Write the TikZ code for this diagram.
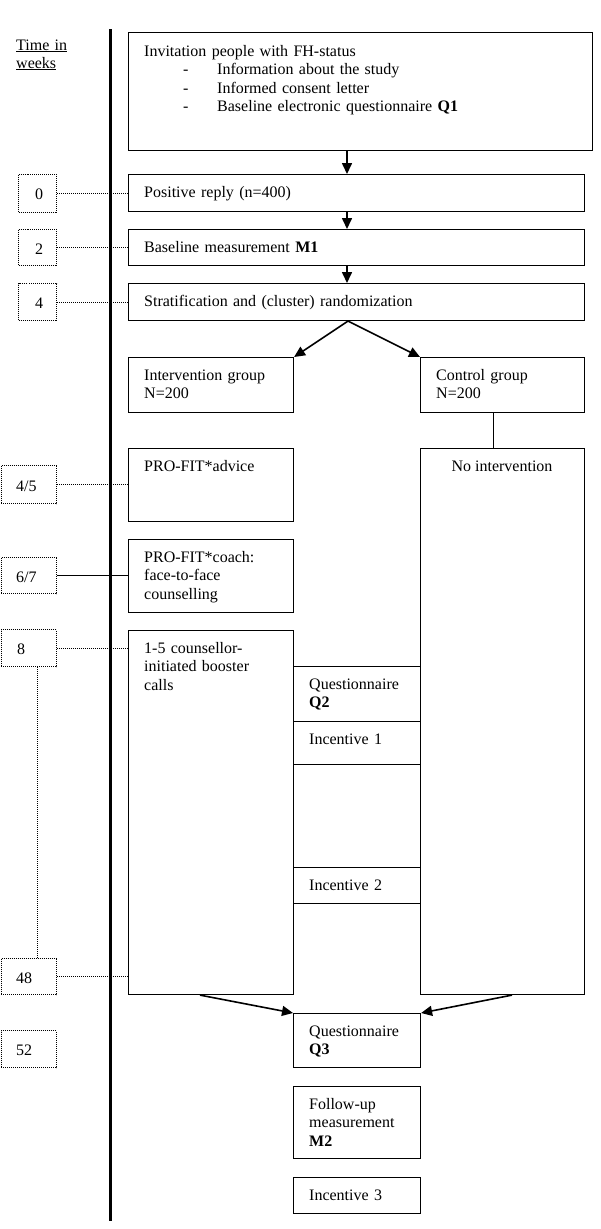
\documentclass[tikz,border=0pt]{standalone}
\usepackage{fontspec}
\setmainfont{Liberation Serif}
\usetikzlibrary{arrows.meta,calc}
\begin{document}
\begin{tikzpicture}[x=1pt,y=-1pt,
  box/.style={draw, line width=1.1pt, rectangle, inner sep=0pt, anchor=north west},
  tbox/.style={draw, dash pattern=on 1pt off 1pt, line width=1pt, rectangle, inner sep=0pt, anchor=north west},
  txt/.style={inner sep=0pt, anchor=base west, font=\fontsize{16}{18.7}\selectfont, text width=#1, align=left},
  txt/.default=150pt,
  dotl/.style={dash pattern=on 1pt off 1pt, line width=1pt},
  arr/.style={line width=1.6pt, -{Triangle[length=11pt,width=10pt]}},
  conn/.style={line width=1.1pt}]
\useasboundingbox (0,0) rectangle (600,1229);

% time label
\node[txt=80pt] (tl1) at (16,50) {\underline{Time in}};
\node[txt=80pt] (tl2) at (16,68) {\underline{weeks}};

% main boxes
\node[box, minimum width=464pt, minimum height=118pt] (inv) at (128,32) {};
\node[txt=440pt] (invT) at (144,56) {Invitation people with FH-status};
\node[txt=20pt] (d1) at (183,74.5) {-};
\node[txt=360pt] (b1) at (217,74.5) {Information about the study};
\node[txt=20pt] (d2) at (183,93) {-};
\node[txt=360pt] (b2) at (217,93) {Informed consent letter};
\node[txt=20pt] (d3) at (183,111.5) {-};
\node[txt=360pt] (b3) at (217,111.5) {Baseline electronic questionnaire \textbf{Q1}};

\node[box, minimum width=456pt, minimum height=37pt] (pos) at (128,174) {};
\node[txt=420pt] (posT) at (144,197) {Positive reply (n=400)};
\node[box, minimum width=456pt, minimum height=36pt] (base) at (128,229) {};
\node[txt=420pt] (baseT) at (144,252) {Baseline measurement \textbf{M1}};
\node[box, minimum width=456pt, minimum height=37pt] (strat) at (128,283) {};
\node[txt=420pt] (stratT) at (144,306) {Stratification and (cluster) randomization};

\node[box, minimum width=165pt, minimum height=55pt] (int) at (128,357) {};
\node[txt] (intT) at (144,380) {Intervention group\\N=200};
\node[box, minimum width=164pt, minimum height=55pt] (ctrl) at (420,357) {};
\node[txt] (ctrlT) at (436,380) {Control group\\N=200};

\node[box, minimum width=164pt, minimum height=546pt] (noint) at (420,448) {};
\node[inner sep=0pt, anchor=base, font=\fontsize{16}{18.7}\selectfont] (nointT) at (502,471) {No intervention};

\node[box, minimum width=165pt, minimum height=73pt] (adv) at (128,448) {};
\node[txt] (advT) at (144,471) {PRO-FIT*advice};
\node[box, minimum width=165pt, minimum height=73pt] (coach) at (128,539) {};
\node[txt] (coachT) at (144,562) {PRO-FIT*coach:\\face-to-face\\counselling};
\node[box, minimum width=165pt, minimum height=364pt] (boost) at (128,630) {};
\node[txt] (boostT) at (144,653) {1-5 counsellor-\\initiated booster\\calls};

\node[box, minimum width=127pt, minimum height=55pt] (q2) at (293,666) {};
\node[txt=110pt] (q2T) at (309,689) {Questionnaire\\\textbf{Q2}};
\node[box, minimum width=127pt, minimum height=43pt] (inc1) at (293,721) {};
\node[txt=110pt] (inc1T) at (309,744) {Incentive 1};
\node[box, minimum width=127pt, minimum height=36pt] (inc2) at (293,867) {};
\node[txt=110pt] (inc2T) at (309,890) {Incentive 2};

\node[box, minimum width=127pt, minimum height=54pt] (q3) at (293,1013) {};
\node[txt=110pt] (q3T) at (309,1036) {Questionnaire\\\textbf{Q3}};
\node[box, minimum width=127pt, minimum height=72pt] (fu) at (293,1086) {};
\node[txt=110pt] (fuT) at (309,1109) {Follow-up\\measurement\\\textbf{M2}};
\node[box, minimum width=127pt, minimum height=36pt] (inc3) at (293,1177) {};
\node[txt=110pt] (inc3T) at (309,1200) {Incentive 3};

% arrows
\draw[arr] ($(inv.south west)+(219,0)$) -- ($(pos.north west)+(219,0)$);
\draw[arr] ($(pos.south west)+(219,0)$) -- ($(base.north west)+(219,0)$);
\draw[arr] ($(base.south west)+(219,0)$) -- ($(strat.north west)+(219,0)$);
\draw[arr] ($(strat.south west)+(220,0)$) -- (int.north east);
\draw[arr] ($(strat.south west)+(220,0)$) -- (ctrl.north west);
\draw[conn] ($(ctrl.south)+(-9,0)$) -- ($(noint.north)+(-9,0)$);
\draw[arr] ($(boost.south west)+(72,0)$) -- (q3.north west);
\draw[arr] ($(noint.south west)+(92,0)$) -- (q3.north east);

% time boxes
\node[tbox, minimum width=38pt, minimum height=38pt] (t0) at (18,174) {};
\node[txt=30pt] (t0T) at (35,199) {0};
\node[tbox, minimum width=38pt, minimum height=36pt] (t2) at (18,229) {};
\node[txt=30pt] (t2T) at (35,254) {2};
\node[tbox, minimum width=38pt, minimum height=37pt] (t4) at (18,283) {};
\node[txt=30pt] (t4T) at (35,308) {4};
\node[tbox, minimum width=55pt, minimum height=38pt] (t45) at (0.8,465) {};
\node[txt=40pt] (t45T) at (16,491) {4/5};
\node[tbox, minimum width=55pt, minimum height=36pt] (t67) at (0.8,557) {};
\node[txt=40pt] (t67T) at (16,582) {6/7};
\node[tbox, minimum width=55pt, minimum height=37pt] (t8) at (0.8,629) {};
\node[txt=40pt] (t8T) at (17,654) {8};
\node[tbox, minimum width=55pt, minimum height=36pt] (t48) at (0.8,958) {};
\node[txt=40pt] (t48T) at (16,983) {48};
\node[tbox, minimum width=55pt, minimum height=37pt] (t52) at (0.8,1030) {};
\node[txt=40pt] (t52T) at (16,1055) {52};

% time connectors
\draw[dotl] (t0.east) -- (t0.east -| pos.west);
\draw[dotl] (t2.east) -- (t2.east -| base.west);
\draw[dotl] (t4.east) -- (t4.east -| strat.west);
\draw[dotl] (t45.east) -- (t45.east -| adv.west);
\draw[conn] (t67.east) -- (t67.east -| coach.west);
\draw[dotl] (t8.east) -- (t8.east -| boost.west);
\draw[dotl] (t48.east) -- (t48.east -| boost.west);
\draw[dotl] ($(t8.south west)+(36.5,0)$) -- ($(t48.north west)+(36.5,0)$);

% time axis
\coordinate (axT) at (110,29);
\coordinate (axB) at (110,1221);
\draw[line width=3pt] (axT) -- (axB);
\end{tikzpicture}
\end{document}
